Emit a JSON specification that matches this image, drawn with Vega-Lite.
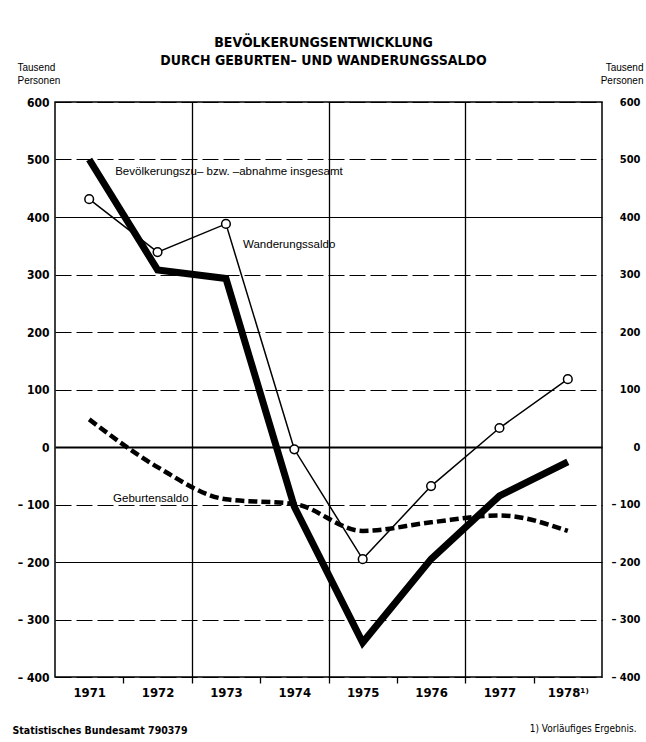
{
  "$schema": "https://vega.github.io/schema/vega-lite/v6.json",
  "width": 547,
  "height": 575,
  "autosize": {"type": "none"},
  "padding": {"left": 55, "top": 102, "right": 44, "bottom": 65},
  "background": "white",
  "config": {
    "font": "Liberation Sans Narrow, DejaVu Sans Condensed, Roboto Condensed, Arial Narrow, sans-serif",
    "view": {"stroke": "black", "strokeWidth": 1.5}
  },
  "title": {
    "text": ["BEVÖLKERUNGSENTWICKLUNG", "DURCH GEBURTEN– UND WANDERUNGSSALDO"],
    "fontSize": 14,
    "fontWeight": "bold",
    "color": "black",
    "lineHeight": 18,
    "anchor": "middle",
    "offset": 0,
    "dx": -5,
    "dy": 6
  },
  "datasets": {
    "total": [
      {"year": 1971, "value": 500},
      {"year": 1972, "value": 308},
      {"year": 1973, "value": 293},
      {"year": 1974, "value": -104},
      {"year": 1975, "value": -340},
      {"year": 1976, "value": -195},
      {"year": 1977, "value": -85},
      {"year": 1978, "value": -26}
    ],
    "migration": [
      {"year": 1971, "value": 431},
      {"year": 1972, "value": 339},
      {"year": 1973, "value": 388},
      {"year": 1974, "value": -4},
      {"year": 1975, "value": -195},
      {"year": 1976, "value": -68},
      {"year": 1977, "value": 33},
      {"year": 1978, "value": 118}
    ],
    "births": [
      {"year": 1971, "value": 48},
      {"year": 1972, "value": -35},
      {"year": 1973, "value": -91},
      {"year": 1974, "value": -99},
      {"year": 1975, "value": -146},
      {"year": 1976, "value": -131},
      {"year": 1977, "value": -119},
      {"year": 1978, "value": -146}
    ],
    "labels": [
      {"year": 1971.38, "value": 478, "text": "Bevölkerungszu– bzw. –abnahme insgesamt"},
      {"year": 1973.25, "value": 351, "text": "Wanderungssaldo"},
      {"year": 1971.35, "value": -90, "text": "Geburtensaldo"}
    ]
  },
  "resolve": {"axis": {"x": "independent", "y": "independent"}},
  "layer": [
    {
      "data": {"name": "births"},
      "mark": {"type": "line", "color": "black", "strokeWidth": 4.5, "strokeDash": [9, 4], "interpolate": "monotone"},
      "encoding": {
        "x": {
          "field": "year", "type": "quantitative",
          "scale": {"domain": [1970.5, 1978.5], "nice": false, "zero": false},
          "axis": {
            "orient": "top", "labels": false, "ticks": false, "domain": false, "grid": false,
            "title": "1) Vorläufiges Ergebnis.", "titleX": 581, "titleY": 626,
            "titleAlign": "right", "titleBaseline": "middle", "titleFontSize": 10,
            "titleFontWeight": "normal", "titleColor": "black"
          }
        },
        "y": {
          "field": "value", "type": "quantitative",
          "scale": {"domain": [-400, 600], "nice": false},
          "axis": {
            "orient": "right", "values": [-400, -300, -200, -100, 0, 100, 200, 300, 400, 500, 600],
            "grid": false, "ticks": false, "domain": false,
            "labelExpr": "datum.value < 0 ? '– ' + (-datum.value) : '' + datum.value",
            "labelAlign": "right", "labelPadding": 38, "labelFontSize": 11, "labelFontWeight": "bold",
            "labelColor": "black",
            "title": ["Tausend", "Personen"], "titleAngle": 0, "titleX": 41, "titleY": -40,
            "titleAlign": "right", "titleBaseline": "top", "titleFontSize": 10, "titleFont": "Liberation Sans",
            "titleFontWeight": "normal", "titleLineHeight": 13, "titleColor": "black"
          }
        }
      }
    },
    {
      "data": {"name": "migration"},
      "mark": {
        "type": "line", "color": "black", "strokeWidth": 1.5,
        "point": {"filled": true, "fill": "white", "stroke": "black", "strokeWidth": 1.5, "size": 75}
      },
      "encoding": {
        "x": {"field": "year", "type": "quantitative", "axis": null},
        "y": {"field": "value", "type": "quantitative", "axis": null}
      }
    },
    {
      "data": {"name": "total"},
      "mark": {"type": "line", "color": "black", "strokeWidth": 7, "strokeJoin": "miter", "strokeCap": "butt"},
      "encoding": {
        "x": {
          "field": "year", "type": "quantitative",
          "axis": {
            "orient": "bottom",
            "values": [1971, 1971.5, 1972, 1972.5, 1973, 1973.5, 1974, 1974.5, 1975, 1975.5, 1976, 1976.5, 1977, 1977.5, 1978],
            "labelExpr": "datum.value % 1 === 0 ? (datum.value === 1978 ? '1978¹⁾' : '' + datum.value) : ''",
            "labelOverlap": false, "labelFlush": false,
            "labelFontSize": 13, "labelFontWeight": "bold", "labelColor": "black", "labelPadding": 3,
            "ticks": true, "tickSize": 6, "tickColor": "black", "tickWidth": 1.3,
            "tickOpacity": {"condition": {"test": "datum.value % 1 !== 0", "value": 1}, "value": 0},
            "grid": true, "gridColor": "black", "gridWidth": 1.3,
            "gridOpacity": {"condition": {"test": "datum.value === 1972.5 || datum.value === 1974.5 || datum.value === 1976.5", "value": 1}, "value": 0},
            "domain": false,
            "title": "Statistisches Bundesamt 790379", "titleX": -43, "titleY": 53,
            "titleAlign": "left", "titleBaseline": "middle", "titleFontSize": 10.5,
            "titleFontWeight": "bold", "titleColor": "black"
          }
        },
        "y": {
          "field": "value", "type": "quantitative",
          "axis": {
            "orient": "left", "values": [-400, -300, -200, -100, 0, 100, 200, 300, 400, 500, 600],
            "grid": true, "gridColor": "black",
            "gridWidth": {"condition": {"test": "datum.value === 0", "value": 2.2}, "value": 1},
            "gridDash": {"condition": {"test": "datum.value === 0 || datum.value === 400 || datum.value === -200", "value": []}, "value": [16, 5]},
            "gridOpacity": 1,
            "ticks": false, "domain": false,
            "labelExpr": "datum.value < 0 ? '– ' + (-datum.value) : '' + datum.value",
            "labelPadding": 6, "labelFontSize": 12, "labelFontWeight": "bold", "labelColor": "black",
            "title": ["Tausend", "Personen"], "titleAngle": 0, "titleX": -38, "titleY": -40,
            "titleAlign": "left", "titleBaseline": "top", "titleFontSize": 10, "titleFont": "Liberation Sans",
            "titleFontWeight": "normal", "titleLineHeight": 13, "titleColor": "black"
          }
        }
      }
    },
    {
      "data": {"name": "labels"},
      "mark": {"type": "text", "align": "left", "baseline": "middle", "fontSize": 11.5, "font": "Liberation Sans", "color": "black"},
      "encoding": {
        "x": {"field": "year", "type": "quantitative", "axis": null},
        "y": {"field": "value", "type": "quantitative", "axis": null},
        "text": {"field": "text"}
      }
    }
  ]
}
